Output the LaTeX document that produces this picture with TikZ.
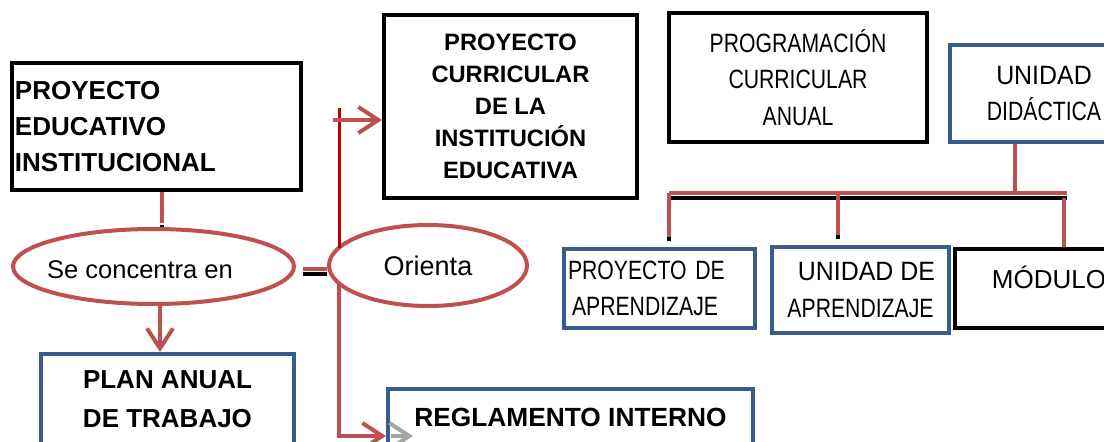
\documentclass[tikz,border=0pt]{standalone}
\usepackage{fontspec}
\setmainfont{Liberation Sans}
\newfontfamily\narrowfont{Liberation Sans}[FakeStretch=0.8]
\newfontfamily\halfnarrowfont{Liberation Sans}[FakeStretch=0.94]
\usepackage{tikz}
\usetikzlibrary{shapes.geometric,arrows.meta}
\definecolor{linered}{RGB}{192,80,77}
\definecolor{boxblue}{RGB}{56,93,138}
\definecolor{darkred}{RGB}{192,0,0}
\definecolor{shadowgrey}{RGB}{165,165,165}

\begin{document}
\begin{tikzpicture}[x=1pt,y=-1pt]
			\tikzstyle{every node}+=[inner sep=0pt]
			\tikzstyle{blackbox}=[draw=black, line width=4pt, rectangle]
			\tikzstyle{bluebox}=[draw=boxblue, line width=4pt, rectangle]
			\tikzstyle{oval}=[draw=linered, line width=4pt, ellipse]
			\tikzstyle{link}=[draw=linered, line width=4pt]
			\tikzstyle{blackrule}=[draw=black, line width=4pt]
			\tikzstyle{trunk}=[draw=darkred, line width=3pt]
			\tikzstyle{greylink}=[draw=shadowgrey, line width=4pt]
			\tikzstyle{headtip}=[-{Straight Barb[length=20pt,width=26pt]}]
			\tikzstyle{boldtext}=[font=\fontsize{26}{36}\selectfont\bfseries]
			\tikzstyle{narrowtext}=[font=\narrowfont\fontsize{26.5}{36.5}\selectfont]
			\tikzstyle{plaintext}=[font=\fontsize{26}{30}\selectfont]
			\useasboundingbox (0,0) rectangle (1104,442);
			\clip (0,0) rectangle (1104,442);
			\node [blackbox, boldtext, minimum width=289pt, minimum height=127pt, text width=283pt, inner xsep=3pt, align=left] (pei) at (156.5,126.5) {PROYECTO\\EDUCATIVO\\INSTITUCIONAL};
			\node [blackbox, boldtext, font=\fontsize{23.7}{32}\selectfont\bfseries, minimum width=253pt, minimum height=183pt, align=center] (pcie) at (510.5,106.5) {PROYECTO\\CURRICULAR\\DE LA\\INSTITUCIÓN\\EDUCATIVA};
			\node [blackbox, narrowtext, minimum width=258pt, minimum height=129pt, align=center] (prog) at (798,77.5) {PROGRAMACIÓN\\CURRICULAR\\ANUAL};
			\node [bluebox, narrowtext, minimum width=188pt, minimum height=97pt, align=center] (udid) at (1044,93.5) {{\halfnarrowfont UNIDAD}\\DIDÁCTICA};
			\node [bluebox, narrowtext, minimum width=191pt, minimum height=79pt, text width=183pt, inner xsep=4pt, align=left] (proy) at (659.5,288.5) {PROYECTO DE\\\hspace*{4pt}APRENDIZAJE};
			\node [bluebox, narrowtext, minimum width=177pt, minimum height=86pt, align=center] (unap) at (860.5,290) {\hspace*{12pt}{\halfnarrowfont UNIDAD DE}\\APRENDIZAJE};
			\node [blackbox, plaintext, minimum width=188pt, minimum height=79pt, text height=13pt, text depth=13pt] (modulo) at (1049,288.5) {MÓDULO};
			\node [bluebox, boldtext, font=\fontsize{26}{39}\selectfont\bfseries, minimum width=253pt, minimum height=90pt, align=center] (plan) at (167.5,399) {PLAN ANUAL\\DE TRABAJO};
			\node [bluebox, boldtext, font=\fontsize{26.3}{36}\selectfont\bfseries, minimum width=365pt, minimum height=56pt] (regl) at (570.5,417) {REGLAMENTO INTERNO};
			\node [oval, minimum width=281pt, minimum height=75pt] (concentra) at (153.5,266.5) {};
			\node [plaintext, font=\fontsize{25.5}{30}\selectfont] (concentraText) at (140,270) {Se concentra en};
			\node [oval, plaintext, font=\fontsize{27}{30}\selectfont, minimum width=198pt, minimum height=81pt] (orienta) at (428,265.5) {Orienta};
			\coordinate (trunkTop) at (339,108);
			\coordinate (trunkBot) at (339,436);
			\coordinate (toPcie) at (333,120);
			\coordinate (busL) at (669,193);
			\coordinate (busM) at (838,193);
			\coordinate (busR) at (1067,193);
			\coordinate (busUd) at (1015,193);
			\coordinate (busRd) at (1064,198);
			\draw [link, shorten >=4pt] ([xshift=5.5pt]pei.south) -- ([xshift=5.5pt]pei.south |- concentra.north);
			\draw [blackrule, shorten <=33pt] ([xshift=5.5pt]pei.south) -- ([xshift=5.5pt]pei.south |- concentra.north);
			\draw [link, headtip] ([xshift=6.5pt]concentra.south) -- ([xshift=6.5pt]concentra.south |- plan.north);
			\draw [link, shorten <=7pt] ([yshift=-2.5pt]concentra.east) -- ([yshift=-2.5pt]concentra.east -| orienta.west);
			\draw [blackrule, shorten <=7pt] ([yshift=-7.5pt]concentra.east) -- ([yshift=-7.5pt]concentra.east -| orienta.west);
			\draw [trunk] (trunkTop) -- (trunkTop |- orienta.169);
			\draw [link, headtip] (toPcie) -- (toPcie -| pcie.west);
			\draw [link, headtip] (trunkTop |- orienta.191) -- (trunkBot) -- (trunkBot -| regl.west);
			\draw [greylink, headtip] ([xshift=5pt]trunkBot -| regl.west) -- ++(22,0);
			\draw [link] (udid.south -| busUd) -- (busUd);
			\draw [link] (busL) -- (busR);
			\draw [blackrule] ([yshift=-5pt]busL) -- ([yshift=-5pt]busR);
			\draw [link, shorten >=10pt] (busL) -- (busL |- proy.north);
			\draw [blackrule, shorten >=6pt] ([yshift=10pt]busL |- proy.north) -- (busL |- proy.north);
			\draw [link, shorten >=10pt] (busM) -- (busM |- unap.north);
			\draw [blackrule, shorten >=6pt] ([yshift=10pt]busM |- unap.north) -- (busM |- unap.north);
			\draw [link] (busRd) -- (busRd |- modulo.north);
		\end{tikzpicture}
\end{document}
